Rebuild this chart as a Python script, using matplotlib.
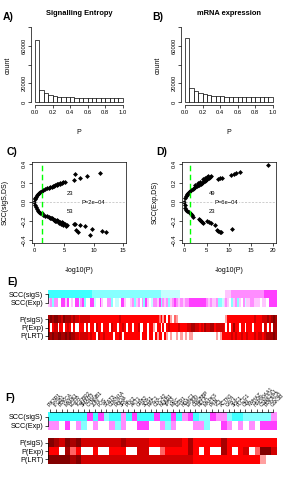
import numpy as np
import matplotlib
matplotlib.use("Agg")
import matplotlib.pyplot as plt
from matplotlib.colors import to_rgb

plt.rcParams['font.family'] = ['Liberation Sans', 'DejaVu Sans']

W, H = 300, 480

# histogram counts, 20 bins on [0, 1]
SIGS_COUNTS = [67000, 12900, 9400, 7600, 6500, 5900, 5400, 5100, 4900, 4700,
               4600, 4500, 4400, 4300, 4300, 4200, 4100, 4100, 4000, 4000]
EXP_COUNTS = [68200, 15300, 11800, 9600, 8300, 7400, 6800, 6400, 6100, 5900,
              5700, 5600, 5500, 5400, 5300, 5300, 5200, 5100, 5100, 5000]

# panel C: -log10(P) vs SCC(sigS, DS)
C_UP_X = [0.0, 0.1, 0.2, 0.3, 0.45, 0.6, 0.8, 1.0, 1.25, 1.5,
          1.8, 2.1, 2.4, 2.65, 2.9, 3.2, 3.5, 3.8, 4.0, 4.3,
          4.6, 4.9, 5.2, 3.3, 3.9, 4.4, 6.7, 6.9, 7.7, 8.8, 11.1]
C_UP_Y = [0.005, 0.03, 0.045, 0.056, 0.07, 0.08, 0.092, 0.103, 0.116, 0.125,
          0.134, 0.143, 0.15, 0.155, 0.162, 0.168, 0.18, 0.186, 0.19, 0.198,
          0.203, 0.208, 0.215, 0.172, 0.182, 0.195, 0.23, 0.30, 0.25, 0.275, 0.31]
C_LO_X = [0.12, 0.25, 0.4, 0.6, 0.8, 1.0, 1.25, 1.5, 1.8, 2.1,
          2.4, 2.7, 3.0, 3.2, 3.5, 3.8, 4.0, 4.3, 4.6, 4.9,
          5.2, 5.5, 2.8, 3.3, 3.7, 4.1, 4.5, 4.9, 5.3, 3.5,
          4.2, 4.8, 6.7, 6.9, 7.7, 8.6, 7.1, 7.4, 9.4, 9.7, 11.4, 12.1]
C_LO_Y = [-0.032, -0.055, -0.075, -0.09, -0.103, -0.112, -0.12, -0.137, -0.145, -0.15,
          -0.158, -0.165, -0.172, -0.18, -0.185, -0.195, -0.2, -0.208, -0.215, -0.225,
          -0.235, -0.245, -0.17, -0.19, -0.205, -0.215, -0.228, -0.24, -0.252, -0.2,
          -0.22, -0.235, -0.235, -0.233, -0.243, -0.254, -0.296, -0.314, -0.349, -0.285,
          -0.303, -0.314]

# panel D: -log10(P) vs SCC(Exp, DS)
D_UP_X = [0.0, 0.15, 0.3, 0.5, 0.7, 0.9, 1.1, 1.3, 1.6, 1.9,
          2.2, 2.5, 2.8, 3.1, 3.4, 3.7, 4.0, 4.3, 4.6, 4.9,
          5.2, 5.5, 5.8, 6.1, 2.5, 3.0, 3.5, 4.2, 4.6, 5.0,
          5.4, 7.5, 8.0, 8.4, 10.6, 11.1, 11.6, 12.5, 18.9]
D_UP_Y = [0.005, 0.04, 0.06, 0.075, 0.09, 0.1, 0.11, 0.118, 0.13, 0.14,
          0.15, 0.16, 0.168, 0.175, 0.185, 0.19, 0.2, 0.21, 0.22, 0.23,
          0.24, 0.25, 0.26, 0.27, 0.185, 0.2, 0.21, 0.24, 0.255, 0.265,
          0.275, 0.245, 0.25, 0.255, 0.29, 0.3, 0.31, 0.32, 0.39]
D_LO_X = [0.1, 0.25, 0.45, 0.7, 0.95, 1.2, 1.5, 1.8, 2.0, 3.2,
          3.5, 3.8, 4.0, 4.2, 5.0, 5.5, 6.0, 7.0, 7.3, 7.6, 8.0, 8.3, 10.8]
D_LO_Y = [-0.03, -0.06, -0.08, -0.095, -0.105, -0.115, -0.128, -0.14, -0.158, -0.18,
          -0.19, -0.2, -0.21, -0.225, -0.205, -0.215, -0.225, -0.24, -0.3, -0.31,
          -0.315, -0.322, -0.29]

# heatmap codes: SCC levels (C strong cyan .. M strong magenta), P levels 0 (white) .. 6 (dark red)
SCC_COLORS = {'C': '#3FFFFF', 'c': '#86FFFF', 'l': '#C6FFFF', 'w': '#FFFFFF',
              'p': '#FFC6FF', 'm': '#FF8CFF', 'M': '#FF3FFF'}
P_COLORS = {'0': '#FFFFFF', '1': '#FFA0A0', '2': '#FF6464', '3': '#FF0000',
            '4': '#D20000', '5': '#A80000', '6': '#820000'}

E_LABELS_TOP = ['SCC(sigS)', 'SCC(Exp)']
E_LABELS_BOT = ['P(sigS)', 'P(Exp)', 'P(LRT)']

E_SCC_SIGS = ("CCCCCCCCCC" "CCCCCCCCCC" "CCCccccccc" "cccccccccc" "cccccccccc" "cccccccccl"
              "lllllllllw" "wwwwwwwwww" "wwwwwwwwww" "wwwpppmmmm" "mmmmmmmmmm" "mmmMMMMMMM")
E_SCC_EXP = ("pmcmmwwMMp" "MwpwMMlmMc" "wwMMlwwMpw" "wmmcwllwMM" "pwwpmcpmwm" "cMpwlmmpMc"
             "mpmcpmMmpm" "mpmmMMMMMM" "MMMmpmppmc" "clpmpwcpmc" "pwmlppmmpp" "pwppwwMMMM")
E_P_SIGS = ("5656655465" "5545443444" "4433333333" "3333333433" "3333333333" "3333333323"
            "1303102100" "0000000000" "0000000000" "0001333333" "3333333343" "3344454565")
E_P_EXP = ("3034403303" "4303003330" "3033043303" "3304330334" "3033033400" "3303310330"
           "3034333343" "3334455443" "4354455344" "4430303533" "0330333033" "3304303055")
E_P_LRT = ("6565566556" "5655443444" "4343304334" "3333033430" "3333333303" "3303303133"
           "0310100101" "1010110000" "0000000010" "1333334343" "3433433343" "4434555565")

# gene labels are illegible in the reference; gene symbols stand in for them
F_GENES = ["PIK3R1", "ITGB1", "PRKCA", "MAPK1", "EGFR", "TGFBR2", "SMAD3", "CTNNB1",
           "JUN", "FOS", "STAT3", "CDKN1A", "RHOA", "SRC", "PTK2", "AKT1", "GRB2",
           "SOS1", "RAC1", "CDC42", "NFKB1", "TP53", "MYC", "ESR1", "HDAC1", "EP300",
           "CREBBP", "RELA", "MAPK3", "PXN", "VCL", "ACTN1", "CAV1", "SHC1", "PLCG1",
           "CBL", "YWHAZ", "HSP90AA1", "CSNK2A1", "PRKACA", "GSK3B"]
F_SCC_SIGS = "CCCCCCCMCM" "cCCmCMCCCM" "CCMCmMCccM" "mmcCCccccc" "m"
F_SCC_EXP = "mmwMwmcwmw" "wmcmwwMMww" "mcmwwwmmcw" "wMmwmwmwMM" "M"
F_P_SIGS = "6546564444" "4445444433" "4444353333" "3533333333" "3"
F_P_EXP = "3305230030" "0333004400" "2333353030" "0530340266" "4"
F_P_LRT = "6666564444" "4444444444" "4444443333" "3333333310" "0"

for rows in [(E_SCC_SIGS, E_SCC_EXP, E_P_SIGS, E_P_EXP, E_P_LRT),
             (F_SCC_SIGS, F_SCC_EXP, F_P_SIGS, F_P_EXP, F_P_LRT)]:
    assert len(set(len(r) for r in rows)) == 1
assert len(F_GENES) == len(F_SCC_SIGS)

TICK_FS = 4.2
LAB_FS = 5.0


def px_axes(fig, x0, y0, x1, y1):
    return fig.add_axes([x0 / W, 1 - y1 / H, (x1 - x0) / W, (y1 - y0) / H])


def px_text(fig, x, y, s, **kw):
    fig.text(x / W, 1 - y / H, s, **kw)


def style_ticks(ax):
    ax.tick_params(length=2, width=0.5, pad=1.5, labelsize=TICK_FS, direction='out')


def draw_hist(fig, x0, counts, title, letter):
    # plot region: 0.0 at x0, 1.0 at x0 + 87.7 px
    s = 87.7
    ax = px_axes(fig, x0 - 0.04 * s, 24.4, x0 + 1.04 * s, 105)
    edges = np.linspace(0, 1, len(counts) + 1)
    ax.bar(edges[:-1], counts, width=np.diff(edges), align='edge',
           facecolor='white', edgecolor='black', linewidth=0.5)
    ax.set_xlim(-0.04, 1.04)
    ax.set_ylim(-3200, 83200)
    for sp in ['top', 'right']:
        ax.spines[sp].set_visible(False)
    ax.spines['bottom'].set_bounds(0, 1)
    ax.spines['left'].set_bounds(0, 80000)
    for sp in ['bottom', 'left']:
        ax.spines[sp].set_linewidth(0.5)
    ax.set_xticks([0, 0.2, 0.4, 0.6, 0.8, 1.0])
    ax.set_xticklabels(['0.0', '0.2', '0.4', '0.6', '0.8', '1.0'])
    ax.set_yticks([0, 20000, 40000, 60000, 80000])
    ax.set_yticklabels(['0', '20000', '', '60000', ''], rotation=90, va='center')
    style_ticks(ax)
    cx = x0 + 0.5 * s
    px_text(fig, cx, 13.5, title, ha='center', va='center', fontsize=5.4, fontweight='bold')
    px_text(fig, x0 - 27, 17, letter, ha='center', va='center', fontsize=7.5, fontweight='bold')
    px_text(fig, x0 - 26.5, 65, 'count', ha='center', va='center', fontsize=LAB_FS, rotation=90)
    px_text(fig, cx, 132, 'P', ha='center', va='center', fontsize=LAB_FS)


def draw_scatter(fig, x0, x1, xlim, xticks, ux, uy, lx, ly, n_up, n_lo, ptxt, pos, ylab, letter):
    ax = px_axes(fig, x0, 162, x1, 243)
    ax.plot(ux, uy, 'D', color='black', ms=2.5, mew=0)
    ax.plot(lx, ly, 'D', color='black', ms=2.5, mew=0)
    ax.axhline(0, color='#BBBBBB', lw=0.5, ls=(0, (3, 2)))
    ax.axvline(-np.log10(0.05), color='#00FF00', lw=1.0, ls=(0, (4, 2.5)))
    ax.set_xlim(*xlim)
    ax.set_ylim(-0.433, 0.423)
    ax.set_xticks(xticks)
    ax.set_yticks([-0.4, -0.2, 0.0, 0.2, 0.4])
    ax.set_yticklabels(['\u22120.4', '\u22120.2', '0.0', '0.2', '0.4'], rotation=90, va='center')
    for sp in ax.spines.values():
        sp.set_linewidth(0.5)
    style_ticks(ax)
    ax.text(pos[0], 0.095, str(n_up), ha='center', va='center', fontsize=TICK_FS)
    ax.text(pos[1], 0.0, ptxt, ha='center', va='center', fontsize=TICK_FS,
            bbox=dict(facecolor='white', edgecolor='none', pad=0.3))
    ax.text(pos[0], -0.105, str(n_lo), ha='center', va='center', fontsize=TICK_FS)
    cx = (x0 + x1) / 2
    px_text(fig, cx, 271, '-log10(P)', ha='center', va='center', fontsize=LAB_FS)
    px_text(fig, x0 - 27, 202, ylab, ha='center', va='center', fontsize=LAB_FS, rotation=90)
    px_text(fig, x0 - 20, 152, letter, ha='center', va='center', fontsize=7.5, fontweight='bold')


def draw_heat(fig, y0, y1, rows, palette, labels, top_labels=None):
    ax = px_axes(fig, 47.7, y0, 276, y1)
    rgb = np.array([[to_rgb(palette[ch]) for ch in row] for row in rows])
    n = rgb.shape[1]
    ax.imshow(rgb, aspect='auto', interpolation='nearest',
              extent=(-0.5, n - 0.5, len(rows) - 0.5, -0.5))
    for sp in ax.spines.values():
        sp.set_visible(False)
    ax.spines['left'].set_visible(True)
    ax.spines['left'].set_bounds(0, len(rows) - 1)
    ax.spines['left'].set_linewidth(0.5)
    ax.set_yticks(range(len(rows)))
    ax.set_yticklabels(labels)
    ax.tick_params(axis='y', length=2, width=0.5, pad=1.2, labelsize=5.2)
    if top_labels is None:
        ax.set_xticks([])
    else:
        ax.xaxis.tick_top()
        ax.spines['top'].set_visible(True)
        ax.spines['top'].set_bounds(0, n - 1)
        ax.spines['top'].set_linewidth(0.5)
        ax.set_xticks(range(n))
        ax.set_xticklabels(top_labels, rotation=45, ha='left', va='bottom',
                           rotation_mode='anchor')
        ax.tick_params(axis='x', length=2.2, width=0.5, pad=0.8, labelsize=3.6)
    return ax


def main():
    fig = plt.figure(figsize=(W / 100, H / 100), dpi=100)

    draw_hist(fig, 35, SIGS_COUNTS, 'Signalling Entropy', 'A)')
    draw_hist(fig, 185, EXP_COUNTS, 'mRNA expression', 'B)')

    draw_scatter(fig, 32, 126, (-0.39, 15.46), [0, 5, 10, 15],
                 C_UP_X, C_UP_Y, C_LO_X, C_LO_Y, 23, 53, 'P=2e\u221204', (6.0, 9.9),
                 'SCC(sigS,DS)', 'C)')
    draw_scatter(fig, 181.7, 276, (-0.58, 20.6), [0, 5, 10, 15, 20],
                 D_UP_X, D_UP_Y, D_LO_X, D_LO_Y, 49, 23, 'P=6e\u221204', (6.2, 9.5),
                 'SCC(Exp,DS)', 'D)')

    px_text(fig, 12, 282, 'E)', ha='center', va='center', fontsize=7.5, fontweight='bold')
    draw_heat(fig, 290, 306.7, [E_SCC_SIGS, E_SCC_EXP], SCC_COLORS, E_LABELS_TOP)
    draw_heat(fig, 315, 340, [E_P_SIGS, E_P_EXP, E_P_LRT], P_COLORS, E_LABELS_BOT)

    px_text(fig, 10, 398, 'F)', ha='center', va='center', fontsize=7.5, fontweight='bold')
    draw_heat(fig, 412.3, 430.3, [F_SCC_SIGS, F_SCC_EXP], SCC_COLORS, E_LABELS_TOP,
              top_labels=F_GENES)
    draw_heat(fig, 438.3, 463.7, [F_P_SIGS, F_P_EXP, F_P_LRT], P_COLORS, E_LABELS_BOT)

    fig.savefig('out.png', dpi=100, facecolor='white')
    plt.close(fig)


if __name__ == "__main__":
    main()
